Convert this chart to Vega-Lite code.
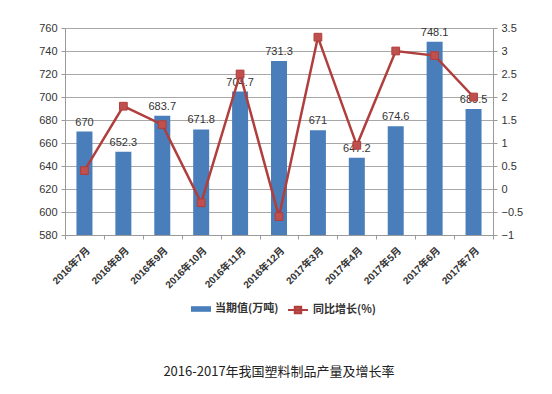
{
  "$schema": "https://vega.github.io/schema/vega-lite/v6.json",
  "width": 428,
  "height": 207,
  "autosize": "none",
  "padding": {"left": 65, "top": 28, "right": 59, "bottom": 159},
  "background": "white",
  "title": {
    "text": "2016-2017年我国塑料制品产量及增长率",
    "orient": "bottom",
    "anchor": "middle",
    "frame": "group",
    "offset": 48,
    "font": "Noto Sans CJK SC",
    "fontSize": 13,
    "fontWeight": "normal",
    "color": "#222222"
  },
  "config": {
    "view": {"stroke": null},
    "axis": {"labelFont": "Liberation Sans, Noto Sans CJK SC", "labelColor": "#333333", "labelFontSize": 11, "domainColor": "#9a9a9a", "tickColor": "#9a9a9a", "tickSize": 4}
  },
  "data": {
    "values": [
      {"month": "2016年7月", "value": 670, "growth": 0.4},
      {"month": "2016年8月", "value": 652.3, "growth": 1.8},
      {"month": "2016年9月", "value": 683.7, "growth": 1.4},
      {"month": "2016年10月", "value": 671.8, "growth": -0.3},
      {"month": "2016年11月", "value": 704.7, "growth": 2.5},
      {"month": "2016年12月", "value": 731.3, "growth": -0.6},
      {"month": "2017年3月", "value": 671, "growth": 3.3},
      {"month": "2017年4月", "value": 647.2, "growth": 0.95},
      {"month": "2017年5月", "value": 674.6, "growth": 3.0},
      {"month": "2017年6月", "value": 748.1, "growth": 2.9},
      {"month": "2017年7月", "value": 689.5, "growth": 2.0}
    ]
  },
  "encoding": {
    "x": {
      "field": "month",
      "type": "ordinal",
      "sort": null,
      "title": null,
      "scale": {"paddingInner": 0, "paddingOuter": 0},
      "axis": {"labelAngle": -45, "tickBand": "extent", "labelFontWeight": "bold", "labelFontSize": 10, "labelPadding": 6, "labelLimit": 200}
    }
  },
  "layer": [
    {
      "encoding": {
        "y": {
          "field": "value",
          "type": "quantitative",
          "title": null,
          "scale": {"domain": [580, 760], "zero": false, "nice": false},
          "axis": {"values": [580, 600, 620, 640, 660, 680, 700, 720, 740, 760], "grid": true, "gridColor": "#a8a8a8", "labelPadding": 4}
        }
      },
      "layer": [
        {
          "mark": {"type": "bar", "width": 16, "clip": true},
          "encoding": {
            "fill": {
              "datum": "当期值(万吨)",
              "scale": {"range": ["#4A7EBB"]},
              "legend": {
                "orient": "none",
                "legendX": 126,
                "legendY": 271,
                "title": null,
                "symbolType": "M-1,-0.28H1V0.28H-1Z",
                "symbolSize": 400,
                "symbolStrokeWidth": 0,
                "labelFont": "Noto Sans CJK SC",
                "labelFontSize": 11,
                "labelFontWeight": "bold",
                "labelColor": "#333333"
              }
            }
          }
        },
        {
          "mark": {"type": "text", "baseline": "bottom", "dy": -4, "font": "Liberation Sans", "fontSize": 11, "color": "#333333"},
          "encoding": {
            "text": {"field": "value", "type": "quantitative"}
          }
        }
      ]
    },
    {
      "mark": {"type": "line", "strokeWidth": 2.5, "point": {"filled": true, "shape": "square", "size": 60, "color": "#C0504D", "stroke": "#A03A38", "strokeWidth": 1}},
      "encoding": {
        "y": {
          "field": "growth",
          "type": "quantitative",
          "title": null,
          "scale": {"domain": [-1, 3.5], "nice": false, "zero": false},
          "axis": {"orient": "right", "values": [-1, -0.5, 0, 0.5, 1, 1.5, 2, 2.5, 3, 3.5], "format": "~f", "grid": false, "labelPadding": 4}
        },
        "stroke": {
          "datum": "同比增长(%)",
          "scale": {"range": ["#B03E3C"]},
          "legend": {
            "orient": "none",
            "legendX": 222,
            "legendY": 271,
            "title": null,
            "symbolType": "M-1,0H1M-0.32,-0.32H0.32V0.32H-0.32Z",
            "symbolSize": 400,
            "symbolStrokeWidth": 2,
            "symbolFillColor": "#C0504D",
            "labelFont": "Noto Sans CJK SC",
            "labelFontSize": 11,
            "labelFontWeight": "bold",
            "labelColor": "#333333"
          }
        }
      }
    }
  ],
  "resolve": {"scale": {"y": "independent", "fill": "independent", "stroke": "independent"}}
}
